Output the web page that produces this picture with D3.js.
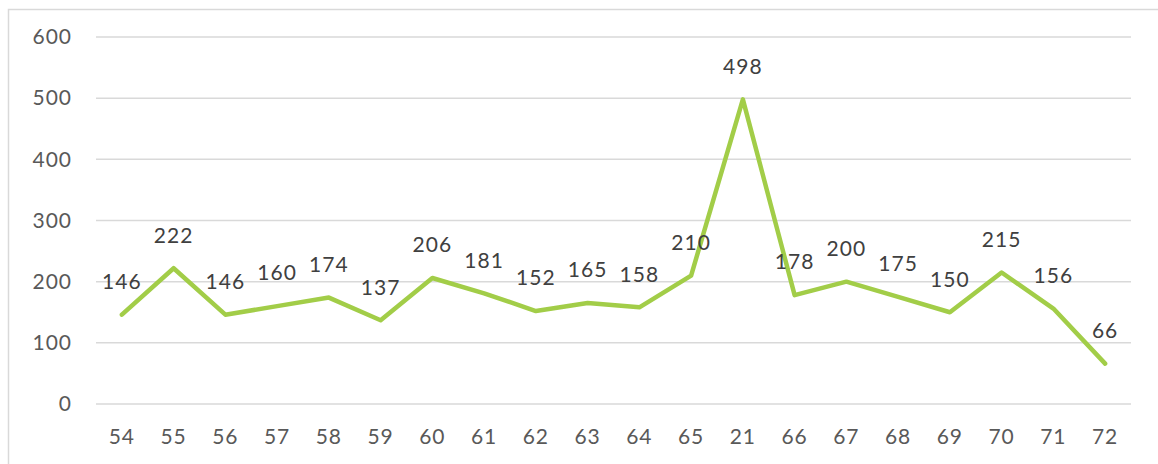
<!DOCTYPE html>
<html>
<head>
<meta charset="utf-8">
<script src="https://cdn.jsdelivr.net/npm/d3@7"></script>
<style>
  body { margin: 0; background: #fff; }
  text { font-family: Lato, "Open Sans", sans-serif; }
</style>
</head>
<body>
<div id="grafico"></div>
<script>
const WIDTH = 1158;
const HEIGHT = 464;

// data
const categories = ["54","55","56","57","58","59","60","61","62","63","64","65","21","66","67","68","69","70","71","72"];
const values = [146,222,146,160,174,137,206,181,152,165,158,210,498,178,200,175,150,215,156,66];
const yTicks = [0,100,200,300,400,500,600];

const margin = {left: 96, right: 27, top: 37, bottom: 60};

let svg = d3.select("#grafico")
    .append("svg")
    .attr("width", WIDTH)
    .attr("height", HEIGHT);

// chart area border (runs off the right and bottom)
svg.append("rect")
    .attr("x", 8.5)
    .attr("y", 9.5)
    .attr("width", WIDTH + 20)
    .attr("height", HEIGHT + 20)
    .style("fill", "none")
    .style("stroke", "#d9d9d9")
    .style("stroke-width", 1.5);

let x = d3.scaleBand()
    .domain(categories)
    .range([margin.left, WIDTH - margin.right]);

let y = d3.scaleLinear()
    .domain([0, 600])
    .range([404, margin.top]);

// gridlines
svg.append("g")
    .selectAll("line")
    .data(yTicks)
    .enter()
    .append("line")
    .attr("x1", margin.left)
    .attr("x2", WIDTH - margin.right)
    .attr("y1", d => y(d))
    .attr("y2", d => y(d))
    .style("stroke", "#d9d9d9")
    .style("stroke-width", 1.5);

// y axis labels
let yAxis = svg.append("g")
    .attr("transform", "translate(" + (margin.left - 24) + ",0)")
    .call(d3.axisLeft(y).tickValues(yTicks).tickSize(0).tickPadding(0));
yAxis.select(".domain").remove();
yAxis.selectAll("text")
    .style("font-size", "21px")
    .style("letter-spacing", "1px")
    .style("fill", "#595959");

// x axis labels
let xAxis = svg.append("g")
    .attr("transform", "translate(0,437)")
    .call(d3.axisBottom(x).tickSize(0).tickPadding(0));
xAxis.select(".domain").remove();
xAxis.selectAll("text")
    .attr("dy", "0.35em")
    .style("font-size", "21px")
    .style("letter-spacing", "1px")
    .style("fill", "#595959");

// the line
let line = d3.line()
    .x((d, i) => x(categories[i]) + x.bandwidth() / 2)
    .y(d => y(d));

svg.append("path")
    .datum(values)
    .attr("d", line)
    .style("fill", "none")
    .style("stroke", "#a2cd48")
    .style("stroke-width", 4.5)
    .style("stroke-linejoin", "round")
    .style("stroke-linecap", "round");

// data labels
svg.append("g")
    .selectAll("text")
    .data(values)
    .enter()
    .append("text")
    .attr("x", (d, i) => x(categories[i]) + x.bandwidth() / 2)
    .attr("y", d => y(d) - 33)
    .attr("dy", "0.35em")
    .attr("text-anchor", "middle")
    .style("font-size", "21px")
    .style("letter-spacing", "1px")
    .style("fill", "#404040")
    .text(d => d);
</script>
</body>
</html>
